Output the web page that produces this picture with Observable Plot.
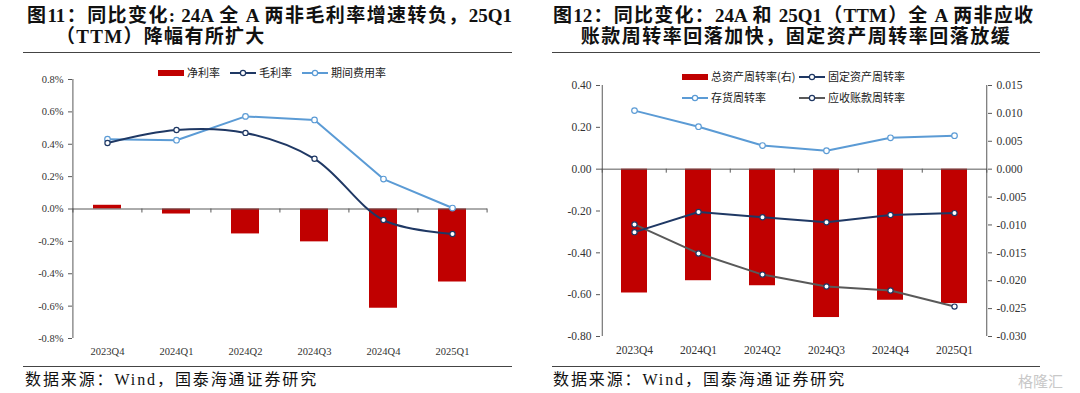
<!DOCTYPE html>
<html><head><meta charset="utf-8">
<script src="https://cdn.jsdelivr.net/npm/d3@7"></script>
<script src="https://cdn.jsdelivr.net/npm/@observablehq/plot@0.6"></script>
<style>
body{margin:0;background:#fff;}
#root{position:relative;width:1080px;height:393px;overflow:hidden;background:#fff;}
.title{position:absolute;white-space:nowrap;font-family:"Liberation Serif","Noto Sans CJK SC",serif;font-weight:bold;font-size:19px;color:#111;line-height:21px;}
.just{text-align:justify;text-align-last:justify;white-space:normal;}
.rule{position:absolute;height:0;border-top:1.6px solid #444;}
.src{position:absolute;white-space:nowrap;font-family:"Liberation Serif","Noto Sans CJK SC",serif;font-size:16px;letter-spacing:1.9px;color:#111;line-height:18px;}
.chart{position:absolute;}
.leg{position:absolute;}
</style></head>
<body><div id="root">
<div class="title just" style="left:27px;top:5px;width:485px;">图11：同比变化: 24A 全 A 两非毛利率增速转负，25Q1</div>
<div class="title" style="left:56px;top:26px;letter-spacing:1.3px;">（TTM）降幅有所扩大</div>
<div class="title just" style="left:553px;top:5px;width:480px;">图12：同比变化：24A 和 25Q1（TTM）全 A 两非应收</div>
<div class="title" style="left:552px;top:26px;width:488px;text-align:center;letter-spacing:1.5px;">账款周转率回落加快，固定资产周转率回落放缓</div>
<div class="rule" style="left:23px;top:52px;width:489px;"></div>
<div class="rule" style="left:552px;top:52px;width:488px;"></div>
<div class="rule" style="left:23px;top:366px;width:489px;"></div>
<div class="rule" style="left:552px;top:366px;width:488px;"></div>
<div class="src" style="left:25px;top:371px;">数据来源：Wind，国泰海通证券研究</div>
<div class="src" style="left:553px;top:371px;">数据来源：Wind，国泰海通证券研究</div>
<div style="position:absolute;left:1018px;top:370px;font-family:'Noto Sans CJK SC';font-size:15px;color:#c8c8c8;">格隆汇</div>
<div id="c1" class="chart" style="left:0;top:60px;"></div>
<div id="c2" class="chart" style="left:540px;top:60px;"></div>
<svg id="legend" class="leg" width="1080" height="393" style="left:0;top:0;pointer-events:none;"></svg>
</div>
<script>
// ---------- data ----------
const categories = ["2023Q4","2024Q1","2024Q2","2024Q3","2024Q4","2025Q1"];
// Chart 1 (%, YoY change)
const netMargin    = [0.023, -0.031, -0.154, -0.203, -0.613, -0.451];
const grossMargin  = [0.408, 0.488, 0.470, 0.310, -0.068, -0.154];
const expenseRatio = [0.431, 0.425, 0.572, 0.550, 0.185, 0.006];
const ticks1 = [-0.8, -0.6, -0.4, -0.2, 0, 0.2, 0.4, 0.6, 0.8];
// Chart 2
const totalAssetTurnover = [-0.0222, -0.0200, -0.0209, -0.0266, -0.0235, -0.0241]; // right axis
const fixedAssetTurnover = [-0.301, -0.205, -0.230, -0.254, -0.219, -0.210];
const inventoryTurnover  = [0.280, 0.203, 0.113, 0.088, 0.150, 0.160];
const receivableTurnover = [-0.264, -0.403, -0.504, -0.561, -0.580, -0.657];
const ticks2Left  = [-0.8, -0.6, -0.4, -0.2, 0, 0.2, 0.4];
const ticks2Right = [-0.030, -0.025, -0.020, -0.015, -0.010, -0.005, 0, 0.005, 0.010, 0.015];

const RED = "#C00000", NAVY = "#1F3864", LBLUE = "#5B9BD5", GRAY = "#595959", AX = "#595959";

// ---------- chart 1 ----------
{
  const W = 540, H = 305, m = {top: 19, right: 53, bottom: 27, left: 72};
  const step = (W - m.left - m.right) / categories.length;
  const rows = categories.map((c, i) => ({c, net: netMargin[i], gross: grossMargin[i], exp: expenseRatio[i]}));
  const chart = Plot.plot({
    width: W, height: H, marginTop: m.top, marginRight: m.right, marginBottom: m.bottom, marginLeft: m.left,
    style: {fontFamily: "Liberation Serif", fontSize: "10.5px", color: "#333", background: "transparent", overflow: "visible"},
    x: {type: "band", domain: categories, paddingInner: 0.6, paddingOuter: 0.3, label: null},
    y: {domain: [-0.8, 0.8], label: null},
    marks: [
      Plot.barY(rows, {x: "c", y: "net", fill: RED}),
      Plot.ruleY([0], {stroke: AX, strokeWidth: 1}),
      Plot.ruleX(categories, {x: d => d, y1: 0, y2: 0, insetBottom: -4, dx: -step / 2, stroke: AX}),
      Plot.ruleX([categories[categories.length - 1]], {x: d => d, y1: 0, y2: 0, insetBottom: -4, dx: step / 2, stroke: AX}),
      Plot.ruleX([categories[0]], {x: d => d, y1: -0.8, y2: 0.8, dx: -step / 2, stroke: AX}),
      Plot.line(rows, {x: "c", y: "exp", stroke: LBLUE, strokeWidth: 2}),
      Plot.dot(rows, {x: "c", y: "exp", r: 2.8, fill: "white", stroke: LBLUE, strokeWidth: 1.2}),
      Plot.line(rows, {x: "c", y: "gross", stroke: NAVY, strokeWidth: 2, curve: "catmull-rom"}),
      Plot.dot(rows, {x: "c", y: "gross", r: 2.6, fill: "white", stroke: NAVY, strokeWidth: 1.2}),
      Plot.axisY({ticks: ticks1, tickFormat: d => d.toFixed(1) + "%", tickSize: 4, tickPadding: 5, stroke: AX}),
      Plot.axisX({tickSize: 0, tickPadding: 9})
    ]
  });
  document.getElementById("c1").appendChild(chart);
}

// ---------- chart 2 ----------
{
  const W = 540, H = 305, m = {top: 25, right: 93, bottom: 29, left: 60};
  const step = (W - m.left - m.right) / categories.length;
  const ratio = 0.4 / 0.015;
  const rows = categories.map((c, i) => ({
    c, tat: totalAssetTurnover[i] * ratio, fat: fixedAssetTurnover[i], inv: inventoryTurnover[i], rec: receivableTurnover[i]
  }));
  const chart = Plot.plot({
    width: W, height: H, marginTop: m.top, marginRight: m.right, marginBottom: m.bottom, marginLeft: m.left,
    style: {fontFamily: "Liberation Serif", fontSize: "11.5px", color: "#333", background: "transparent", overflow: "visible"},
    x: {type: "band", domain: categories, paddingInner: 0.6, paddingOuter: 0.3, label: null},
    y: {domain: [-0.8, 0.4], label: null},
    marks: [
      Plot.barY(rows, {x: "c", y: "tat", fill: RED}),
      Plot.ruleY([0], {stroke: AX, strokeWidth: 1}),
      Plot.ruleX(categories, {x: d => d, y1: 0, y2: 0, insetBottom: -4, dx: -step / 2, stroke: AX}),
      Plot.ruleX([categories[categories.length - 1]], {x: d => d, y1: 0, y2: 0, insetBottom: -4, dx: step / 2, stroke: AX}),
      Plot.ruleX([categories[0]], {x: d => d, y1: -0.8, y2: 0.4, dx: -step / 2, stroke: AX}),
      Plot.ruleX([categories[categories.length - 1]], {x: d => d, y1: -0.8, y2: 0.4, dx: step / 2, stroke: AX}),
      Plot.line(rows, {x: "c", y: "inv", stroke: LBLUE, strokeWidth: 2}),
      Plot.dot(rows, {x: "c", y: "inv", r: 2.8, fill: "white", stroke: LBLUE, strokeWidth: 1.2}),
      Plot.line(rows, {x: "c", y: "rec", stroke: GRAY, strokeWidth: 2}),
      Plot.dot(rows, {x: "c", y: "rec", r: 2.6, fill: "white", stroke: NAVY, strokeWidth: 1.2}),
      Plot.line(rows, {x: "c", y: "fat", stroke: NAVY, strokeWidth: 2}),
      Plot.dot(rows, {x: "c", y: "fat", r: 2.6, fill: "white", stroke: NAVY, strokeWidth: 1.2}),
      Plot.axisY({ticks: ticks2Left, tickFormat: d => d.toFixed(2), tickSize: 4, tickPadding: 5, stroke: AX}),
      Plot.axisY({anchor: "right", ticks: ticks2Right.map(v => v * ratio), tickFormat: d => (Math.abs(d) < 1e-9 ? 0 : d / ratio).toFixed(3), tickSize: 4, tickPadding: 5, stroke: AX}),
      Plot.axisX({tickSize: 0, tickPadding: 9})
    ]
  });
  document.getElementById("c2").appendChild(chart);
}

// ---------- legends ----------
{
  const svg = d3.select("#legend");
  const font = "'Noto Sans CJK SC', sans-serif";
  function item(x, y, kind, color, label, mstroke) {
    if (kind === "bar") {
      svg.append("rect").attr("x", x).attr("y", y - 3).attr("width", 26).attr("height", 6).attr("fill", color);
    } else {
      svg.append("line").attr("x1", x).attr("x2", x + 26).attr("y1", y).attr("y2", y).attr("stroke", color).attr("stroke-width", 2);
      svg.append("circle").attr("cx", x + 13).attr("cy", y).attr("r", 2.6).attr("fill", "white").attr("stroke", mstroke || color).attr("stroke-width", 1.2);
    }
    svg.append("text").attr("x", x + 29).attr("y", y).attr("dy", "0.35em").attr("font-family", font).attr("font-size", 11).attr("fill", "#222").text(label);
  }
  item(158, 73, "bar", RED, "净利率");
  item(230, 73, "line", NAVY, "毛利率");
  item(302, 73, "line", LBLUE, "期间费用率");
  item(682, 77, "bar", RED, "总资产周转率(右)");
  item(799, 77, "line", NAVY, "固定资产周转率");
  item(682, 98, "line", LBLUE, "存货周转率");
  item(799, 98, "line", GRAY, "应收账款周转率", NAVY);
}
</script>
</body></html>
